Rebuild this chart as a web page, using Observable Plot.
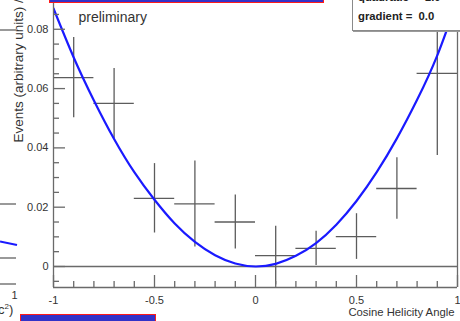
<!DOCTYPE html>
<html>
<head>
<meta charset="utf-8">
<script src="https://cdn.jsdelivr.net/npm/d3@7"></script>
<script src="https://cdn.jsdelivr.net/npm/@observablehq/plot@0.6"></script>
<style>
  html, body { margin: 0; padding: 0; background: #fff; }
  #wrap { position: relative; width: 460px; height: 321px; overflow: hidden; font-family: "Liberation Sans", Arial, sans-serif; }
  #chart { position: absolute; left: 0; top: 0; }
  #titlebox { position: absolute; left: 49px; top: -19px; width: 273px; height: 20px; background: #3232c8; border: 1.5px solid #ff1a1a; }
  #bottombox { position: absolute; left: 20px; top: 313.5px; width: 134px; height: 20px; background: #3232c8; border: 1.5px solid #ff1a1a; }
  #legend { position: absolute; left: 352px; top: -20px; width: 130px; height: 49px; background: #fff; border: 1px solid #8a8a8a; box-shadow: 1px 1px 0 #9a9a9a; }
  #legend .row { position: absolute; left: 5px; font-size: 11.3px; font-weight: bold; color: #222; white-space: pre; }
  #frag { position: absolute; left: 0; top: 0; }
</style>
</head>
<body>
<div id="wrap">
  <div id="chart"></div>
  <svg id="frag" width="20" height="321"></svg>
  <div id="titlebox"></div>
  <div id="bottombox"></div>
  <div id="legend"></div>
</div>
<script>
// ---- data ----
const binCenters = [-0.9, -0.7, -0.5, -0.3, -0.1, 0.1, 0.3, 0.5, 0.7, 0.9];
const binHalfWidth = 0.1;
const eventValues = [0.0637, 0.0550, 0.0230, 0.0211, 0.0150, 0.0037, 0.0061, 0.0101, 0.0263, 0.0651];
const eventErrors = [0.0135, 0.0118, 0.0117, 0.0145, 0.0091, 0.0099, 0.0058, 0.0077, 0.0104, 0.0277];

const fitX = [-1.0, -0.9, -0.8, -0.7, -0.6, -0.5, -0.4, -0.3, -0.2, -0.1, 0, 0.1, 0.2, 0.3, 0.4, 0.5, 0.6, 0.7, 0.8, 0.9, 1.0];
const fitY = [0.0870, 0.0705, 0.0560, 0.0430, 0.0318, 0.0225, 0.0145, 0.0083, 0.0038, 0.0010, 0, 0.0009, 0.0036, 0.0079, 0.0141, 0.0221, 0.0318, 0.0432, 0.0562, 0.0712, 0.0900];

const xDomain = [-1, 1];
const yDomain = [-0.00708, 0.0897];
const xTicks = [-1, -0.5, 0, 0.5, 1];
const xTickLabels = ["-1", "-0.5", "0", "0.5", "1"];
const xMinorTicks = [-0.9, -0.8, -0.7, -0.6, -0.4, -0.3, -0.2, -0.1, 0.1, 0.2, 0.3, 0.4, 0.6, 0.7, 0.8, 0.9];
const yTicks = [0, 0.02, 0.04, 0.06, 0.08];
const yTickLabels = ["0", "0.02", "0.04", "0.06", "0.08"];
const yMinorTicks = [-0.005, 0.005, 0.01, 0.015, 0.025, 0.03, 0.035, 0.045, 0.05, 0.055, 0.065, 0.07, 0.075, 0.085];

const xLabel = "Cosine Helicity Angle";
const yLabel = "Events (arbitrary units) /";
const noteText = "preliminary";
const legendLines = ["quadratic =  1.0", "gradient =  0.0"];

// ---- build tables ----
const points = binCenters.map((x, i) => ({
  x, y: eventValues[i],
  x1: x - binHalfWidth, x2: x + binHalfWidth,
  lo: eventValues[i] - eventErrors[i], hi: eventValues[i] + eventErrors[i]
}));
const fit = fitX.map((x, i) => ({x, y: fitY[i]}));

const axisColor = "#6a6a6a";
const barColor = "#5c5c5c";

const chart = Plot.plot({
  width: 460,
  height: 321,
  marginLeft: 53,
  marginRight: 3,
  marginTop: 0,
  marginBottom: 34,
  style: {fontFamily: "Liberation Sans, Arial, sans-serif", fontSize: "11px", color: "#333", background: "white"},
  x: {domain: xDomain},
  y: {domain: yDomain},
  marks: [
    Plot.ruleY([0], {stroke: axisColor, strokeWidth: 1.3}),
    Plot.ruleX(points, {x: "x", y1: "lo", y2: "hi", stroke: barColor, strokeWidth: 1.3, clip: true}),
    Plot.ruleY(points, {y: "y", x1: "x1", x2: "x2", stroke: barColor, strokeWidth: 1.3}),
    Plot.line(fit, {x: "x", y: "y", stroke: "#1a1aff", strokeWidth: 2.2, curve: "natural", clip: true}),
    Plot.ruleX(xDomain, {stroke: axisColor, strokeWidth: 1.3}),
    Plot.ruleY([yDomain[0]], {stroke: axisColor, strokeWidth: 1.3}),
    Plot.axisY({ticks: yTicks, tickSize: 0, tickPadding: 5, tickFormat: d => yTickLabels[yTicks.indexOf(d)], label: null, fill: "#333"}),
    Plot.axisY({ticks: yTicks, tickSize: -12, text: null, label: null, stroke: axisColor, strokeWidth: 1.3}),
    Plot.axisY({ticks: yMinorTicks, tickSize: -6, text: null, label: null, stroke: axisColor, strokeWidth: 1.3}),
    Plot.axisX({ticks: xTicks, tickSize: 0, tickPadding: 9, tickFormat: d => xTickLabels[xTicks.indexOf(d)], label: null, fill: "#333"}),
    Plot.axisX({ticks: xTicks, tickSize: -12, text: null, label: null, stroke: axisColor, strokeWidth: 1.3}),
    Plot.axisX({ticks: xMinorTicks, tickSize: -6, text: null, label: null, stroke: axisColor, strokeWidth: 1.3}),
    Plot.text([yLabel], {frameAnchor: "bottom-left", rotate: -90, textAnchor: "start", dx: -31, dy: -145, fontSize: 13.5, fill: "#333"}),
    Plot.text([xLabel], {frameAnchor: "bottom-right", textAnchor: "end", dx: -3, dy: 28.4, fontSize: 11.3, fill: "#333"}),
    Plot.text([noteText], {frameAnchor: "top-left", textAnchor: "start", dx: 25, dy: 11.5, fontSize: 14, fill: "#333"})
  ]
});
document.getElementById("chart").appendChild(chart);

// legend box text
const legend = document.getElementById("legend");
legendLines.forEach((t, i) => {
  const d = document.createElement("div");
  d.className = "row";
  d.textContent = t;
  d.style.top = (i === 0 ? 10 : 29) + "px";
  legend.appendChild(d);
});

// fragments of the neighbouring pad on the far left
const frag = d3.select("#frag");
[30, 204, 258, 284].forEach(yy => frag.append("line").attr("x1", 0).attr("x2", 16).attr("y1", yy).attr("y2", yy).attr("stroke", "#777").attr("stroke-width", 1.5));
frag.append("line").attr("x1", 0).attr("y1", 241.5).attr("x2", 17).attr("y2", 245).attr("stroke", "#1a1aff").attr("stroke-width", 2.2);
frag.append("text").attr("x", 11.5).attr("y", 299).attr("font-size", 11).attr("fill", "#333").attr("font-family", "Liberation Sans, Arial, sans-serif").text("1");
const ct = frag.append("text").attr("x", -2).attr("y", 314).attr("font-size", 13).attr("fill", "#333").attr("font-family", "Liberation Sans, Arial, sans-serif");
ct.append("tspan").text("c");
ct.append("tspan").attr("dy", -5).attr("font-size", 8).text("2");
ct.append("tspan").attr("dy", 5).text(")");
</script>
</body>
</html>
